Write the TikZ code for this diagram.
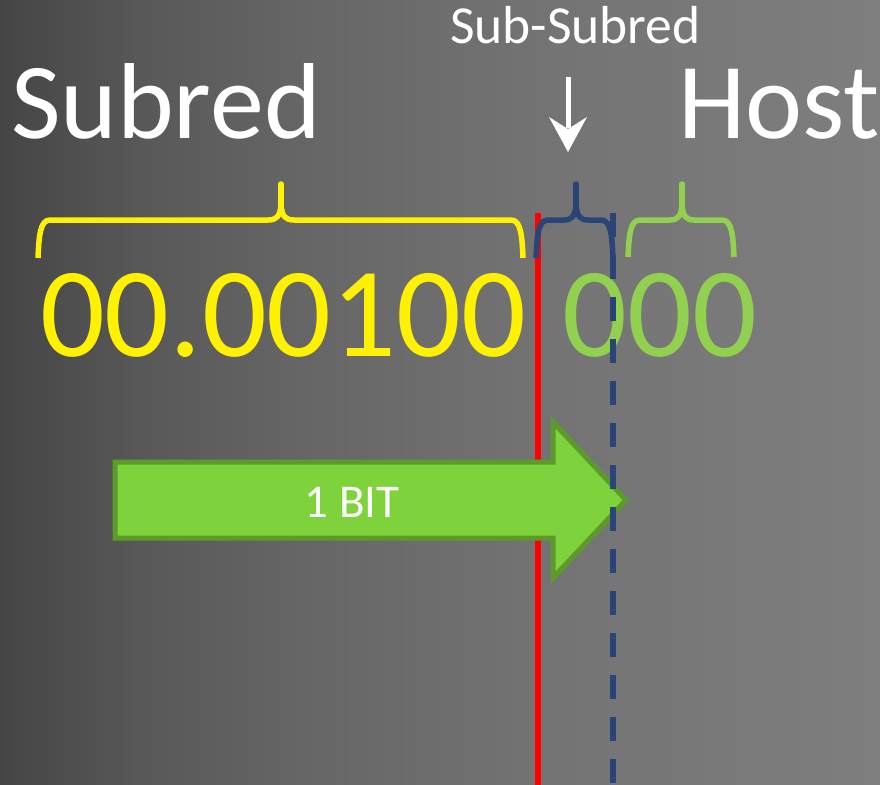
\documentclass[tikz,border=0pt]{standalone}
\usepackage{fontspec}
\setmainfont{Carlito}
\definecolor{bgA}{HTML}{454545}
\definecolor{bgB}{HTML}{595959}
\definecolor{bgC}{HTML}{676767}
\definecolor{bgD}{HTML}{747474}
\definecolor{bgE}{HTML}{7E7E7E}
\definecolor{navy}{HTML}{2A4478}
\definecolor{lgreen}{HTML}{92D050}
\definecolor{arrowfill}{HTML}{7ED23C}
\definecolor{arrowedge}{HTML}{5C9A2A}
\pgfdeclarehorizontalshading{bgshade}{785bp}{color(0bp)=(bgA); color(150bp)=(bgB); color(320bp)=(bgC); color(560bp)=(bgD); color(880bp)=(bgE)}
\tikzset{
  bracestroke/.style={line width=5.5bp, line join=round},
  bracetip/.style={line width=5.5bp, line cap=round},
  bigtext/.style={inner sep=0pt, outer sep=0pt, text=white, font=\fontsize{108bp}{120bp}\selectfont},
}
\begin{document}
\begin{tikzpicture}[x=1bp, y=-1bp]
\useasboundingbox (0,0) rectangle (880,785);
\node[inner sep=0pt, outer sep=0pt, anchor=north west] (bg) at (0,0) {\pgfuseshading{bgshade}};
% red line
\coordinate (redtop) at (538,213);
\coordinate (redbot) at (538,785);
\draw[red, line width=6bp] (redtop) -- (redbot);
% block arrow
\draw[fill=arrowfill, draw=arrowedge, line width=5bp, line join=miter]
  (115,462) -- (553,462) -- (553,422) -- (626,500) -- (553,578) -- (553,538) -- (115,538) -- cycle;
\node[inner sep=0pt, text=white, font=\fontsize{47bp}{56bp}\selectfont, anchor=base] (bit) at (352,517) {1 BIT};
% digits
\node[inner sep=0pt, outer sep=0pt, anchor=base west, font=\fontsize{128bp}{140bp}\selectfont] (digits) at (40,356)
  {\textcolor{yellow}{00.00100}\hspace{36bp}\textcolor{lgreen}{000}};
% yellow brace
\draw[yellow, bracestroke] (38,258) .. controls (39,236) and (40,220) .. (50,220) -- (268,220)
  .. controls (277,220) and (280,216) .. (281,205)
  .. controls (282,216) and (285,220) .. (294,220) -- (511,220)
  .. controls (521,220) and (522,236) .. (523,258);
\draw[yellow, bracetip] (281,208) -- (281,184);
% navy brace
\draw[navy, bracestroke] (536,258) .. controls (537,236) and (538,220) .. (548,220) -- (564,220)
  .. controls (572,220) and (575,216) .. (576,205)
  .. controls (577,216) and (580,220) .. (588,220) -- (601,220)
  .. controls (611,220) and (612,236) .. (613,258);
\draw[navy, bracetip] (576,208) -- (576,184);
% green brace
\draw[lgreen, bracestroke] (628,257) .. controls (629,236) and (630,220) .. (640,220) -- (670,220)
  .. controls (678,220) and (681,216) .. (682,205)
  .. controls (683,216) and (686,220) .. (694,220) -- (722,220)
  .. controls (732,220) and (733,236) .. (734,257);
\draw[lgreen, bracetip] (682,208) -- (682,184);
% dashed line
\coordinate (dashtop) at (613,213);
\coordinate (dashbot) at (613,785);
\draw[navy, line width=6bp, dash pattern=on 24bp off 18bp] (dashtop) -- (dashbot);
% top labels
\node[bigtext, anchor=base west] (subred) at (11,138) {Subred};
\node[bigtext, anchor=base west] (host) at (678,138) {Host};
\node[inner sep=0pt, outer sep=0pt, text=white, anchor=base west, font=\fontsize{53.5bp}{60bp}\selectfont] (subsub) at (450,44) {Sub-Subred};
% down arrow
\coordinate (arrtop) at (568,77);
\coordinate (arrmid) at (568,128);
\draw[white, line width=5bp] (arrtop) -- (arrmid);
\fill[white] (549,117) -- (568,129) -- (587,117) -- (568,152) -- cycle;
\end{tikzpicture}
\end{document}
